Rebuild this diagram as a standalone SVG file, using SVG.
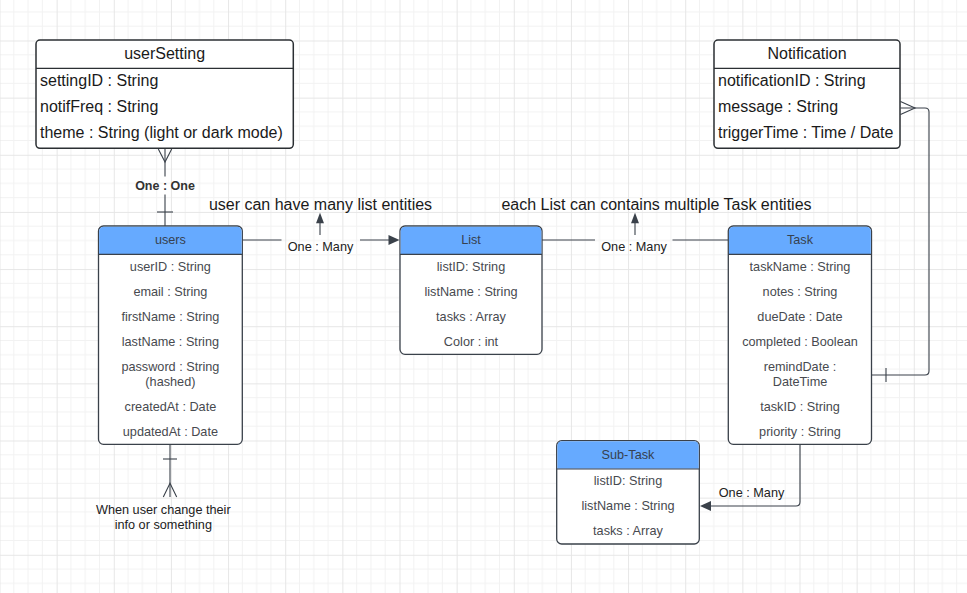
<svg xmlns="http://www.w3.org/2000/svg" width="967" height="593" viewBox="0 0 967 593">
<defs>
<pattern id="grid" x="-0.5" y="40.5" width="57.143" height="57.143" patternUnits="userSpaceOnUse">
<path d="M14.286 0V57.143M28.571 0V57.143M42.857 0V57.143M0 14.286H57.143M0 28.571H57.143M0 42.857H57.143" stroke="#f2f2f2" stroke-width="1" fill="none"/>
<path d="M0.5 0V57.143M0 0.5H57.143" stroke="#e6e6e6" stroke-width="1" fill="none"/>
</pattern>
</defs>
<style>
.box{fill:#ffffff;stroke:#3a414a;stroke-width:1.3}
.plain{fill:#ffffff;stroke:#2b2f33;stroke-width:1.5}
.hdr{fill:#66aaff}
.sep{stroke:#3a414a;stroke-width:1.2}
.sep2{stroke:#2b2f33;stroke-width:1.3}
.ttl{font-family:"Liberation Sans",Arial,sans-serif;font-size:12.7px;fill:#36414f;text-anchor:middle}
.att{font-family:"Liberation Sans",Arial,sans-serif;font-size:12.7px;fill:#474a4f;text-anchor:middle}
.big{font-family:"Liberation Sans",Arial,sans-serif;font-size:16px;fill:#1a1a1a}
.lbl{font-family:"Liberation Sans",Arial,sans-serif;font-size:12.7px;fill:#222222;text-anchor:middle}
.bold{font-family:"Liberation Sans",Arial,sans-serif;font-size:12.5px;font-weight:bold;fill:#333333;text-anchor:middle}
.ln{fill:none;stroke:#3a414a;stroke-width:1.1}
.ah{fill:#3a414a}
</style>
<rect width="967" height="593" fill="#ffffff"/>
<rect width="967" height="593" fill="url(#grid)"/>

<g id="connectors">
<!-- userSetting - users -->
<path class="ln" d="M165 148.5V176.5M165 194.5V226"/>
<path class="ln" d="M158.3 149L165 162L171.7 149"/>
<path class="ln" d="M157 212H173"/>
<text class="bold" x="165" y="189.5">One : One</text>
<!-- users - List -->
<path class="ln" d="M242.5 240H281.5M360 240H389"/>
<polygon class="ah" points="399.5,240 388.5,235 388.5,245"/>
<path class="ln" d="M320 235V222"/>
<polygon class="ah" points="320,212.7 316,223.3 324,223.3"/>
<text class="lbl" x="320.5" y="250.5">One : Many</text>
<text class="big" x="320.5" y="210" text-anchor="middle">user can have many list entities</text>
<!-- List - Task -->
<path class="ln" d="M542 240H595M672.5 240H728"/>
<path class="ln" d="M635 235V222"/>
<polygon class="ah" points="635,212.7 631,223.3 639,223.3"/>
<text class="lbl" x="634" y="250.5">One : Many</text>
<text class="big" x="656.5" y="210" text-anchor="middle">each List can contains multiple Task entities</text>
<!-- Task - Notification -->
<path class="ln" d="M871.5 375H925Q929 375 929 371V112Q929 108 925 108H900.5"/>
<path class="ln" d="M900.5 101.5L915 108L900.5 114.5"/>
<path class="ln" d="M886 368V382"/>
<!-- Task - Sub-Task -->
<path class="ln" d="M800 444.5V502Q800 506 796 506H710"/>
<polygon class="ah" points="700,506 711,501 711,511"/>
<text class="lbl" x="751.5" y="497.3">One : Many</text>
<!-- users bottom -->
<path class="ln" d="M170 444.5V497"/>
<path class="ln" d="M163 459H177"/>
<path class="ln" d="M163.3 497L170 483.3L176.7 497"/>
<text class="lbl" x="163.3" y="514">When user change their</text>
<text class="lbl" x="163.3" y="529.3">info or something</text>
</g>

<g id="userSetting">
<rect class="plain" x="36" y="40" width="257.3" height="108.3" rx="4"/>
<line class="sep2" x1="36" y1="68.3" x2="293.3" y2="68.3"/>
<text class="big" x="164.6" y="59" text-anchor="middle">userSetting</text>
<text class="big" x="40" y="85.7">settingID : String</text>
<text class="big" x="40" y="112">notifFreq : String</text>
<text class="big" x="40" y="138.3">theme : String (light or dark mode)</text>
</g>

<g id="Notification">
<rect class="plain" x="714" y="40" width="186" height="108.3" rx="4"/>
<line class="sep2" x1="714" y1="68.3" x2="900" y2="68.3"/>
<text class="big" x="807" y="59" text-anchor="middle">Notification</text>
<text class="big" x="718" y="85.7">notificationID : String</text>
<text class="big" x="718" y="112">message : String</text>
<text class="big" x="718" y="138.3">triggerTime : Time / Date</text>
</g>

<g id="users">
<rect class="box" x="98.5" y="226" width="143.8" height="218.3" rx="5"/>
<path class="hdr" d="M99.15 254V231.6Q99.15 226.65 104 226.65H236.8Q241.65 226.65 241.65 231.6V254Z"/>
<line class="sep" x1="98.5" y1="254.3" x2="242.3" y2="254.3"/>
<text class="ttl" x="170.4" y="244">users</text>
<text class="att" x="170.4" y="270.7">userID : String</text>
<text class="att" x="170.4" y="295.7">email : String</text>
<text class="att" x="170.4" y="320.7">firstName : String</text>
<text class="att" x="170.4" y="345.7">lastName : String</text>
<text class="att" x="170.4" y="370.7">password : String</text>
<text class="att" x="170.4" y="385.5">(hashed)</text>
<text class="att" x="170.4" y="410.7">createdAt : Date</text>
<text class="att" x="170.4" y="435.7">updatedAt : Date</text>
</g>

<g id="List">
<rect class="box" x="400" y="226" width="142" height="128.3" rx="5"/>
<path class="hdr" d="M400.65 254V231.6Q400.65 226.65 405.5 226.65H536.5Q541.35 226.65 541.35 231.6V254Z"/>
<line class="sep" x1="400" y1="254.3" x2="542" y2="254.3"/>
<text class="ttl" x="471" y="244">List</text>
<text class="att" x="471" y="270.7">listID: String</text>
<text class="att" x="471" y="295.7">listName : String</text>
<text class="att" x="471" y="320.7">tasks : Array</text>
<text class="att" x="471" y="345.7">Color : int</text>
</g>

<g id="Task">
<rect class="box" x="728.3" y="226" width="143.2" height="218.3" rx="5"/>
<path class="hdr" d="M728.95 254V231.6Q728.95 226.65 733.8 226.65H866Q870.85 226.65 870.85 231.6V254Z"/>
<line class="sep" x1="728.3" y1="254.3" x2="871.5" y2="254.3"/>
<text class="ttl" x="800" y="244">Task</text>
<text class="att" x="800" y="270.7">taskName : String</text>
<text class="att" x="800" y="295.7">notes : String</text>
<text class="att" x="800" y="320.7">dueDate : Date</text>
<text class="att" x="800" y="345.7">completed : Boolean</text>
<text class="att" x="800" y="370.7">remindDate :</text>
<text class="att" x="800" y="385.5">DateTime</text>
<text class="att" x="800" y="410.7">taskID : String</text>
<text class="att" x="800" y="435.7">priority : String</text>
</g>

<g id="Sub-Task">
<rect class="box" x="556.7" y="440.7" width="142.6" height="103.3" rx="5"/>
<path class="hdr" d="M557.35 468.7V446.3Q557.35 441.35 562.2 441.35H693.8Q698.65 441.35 698.65 446.3V468.7Z"/>
<line class="sep" x1="556.7" y1="469" x2="699.3" y2="469"/>
<text class="ttl" x="628" y="458.5">Sub-Task</text>
<text class="att" x="628" y="485">listID: String</text>
<text class="att" x="628" y="510">listName : String</text>
<text class="att" x="628" y="535">tasks : Array</text>
</g>
</svg>
